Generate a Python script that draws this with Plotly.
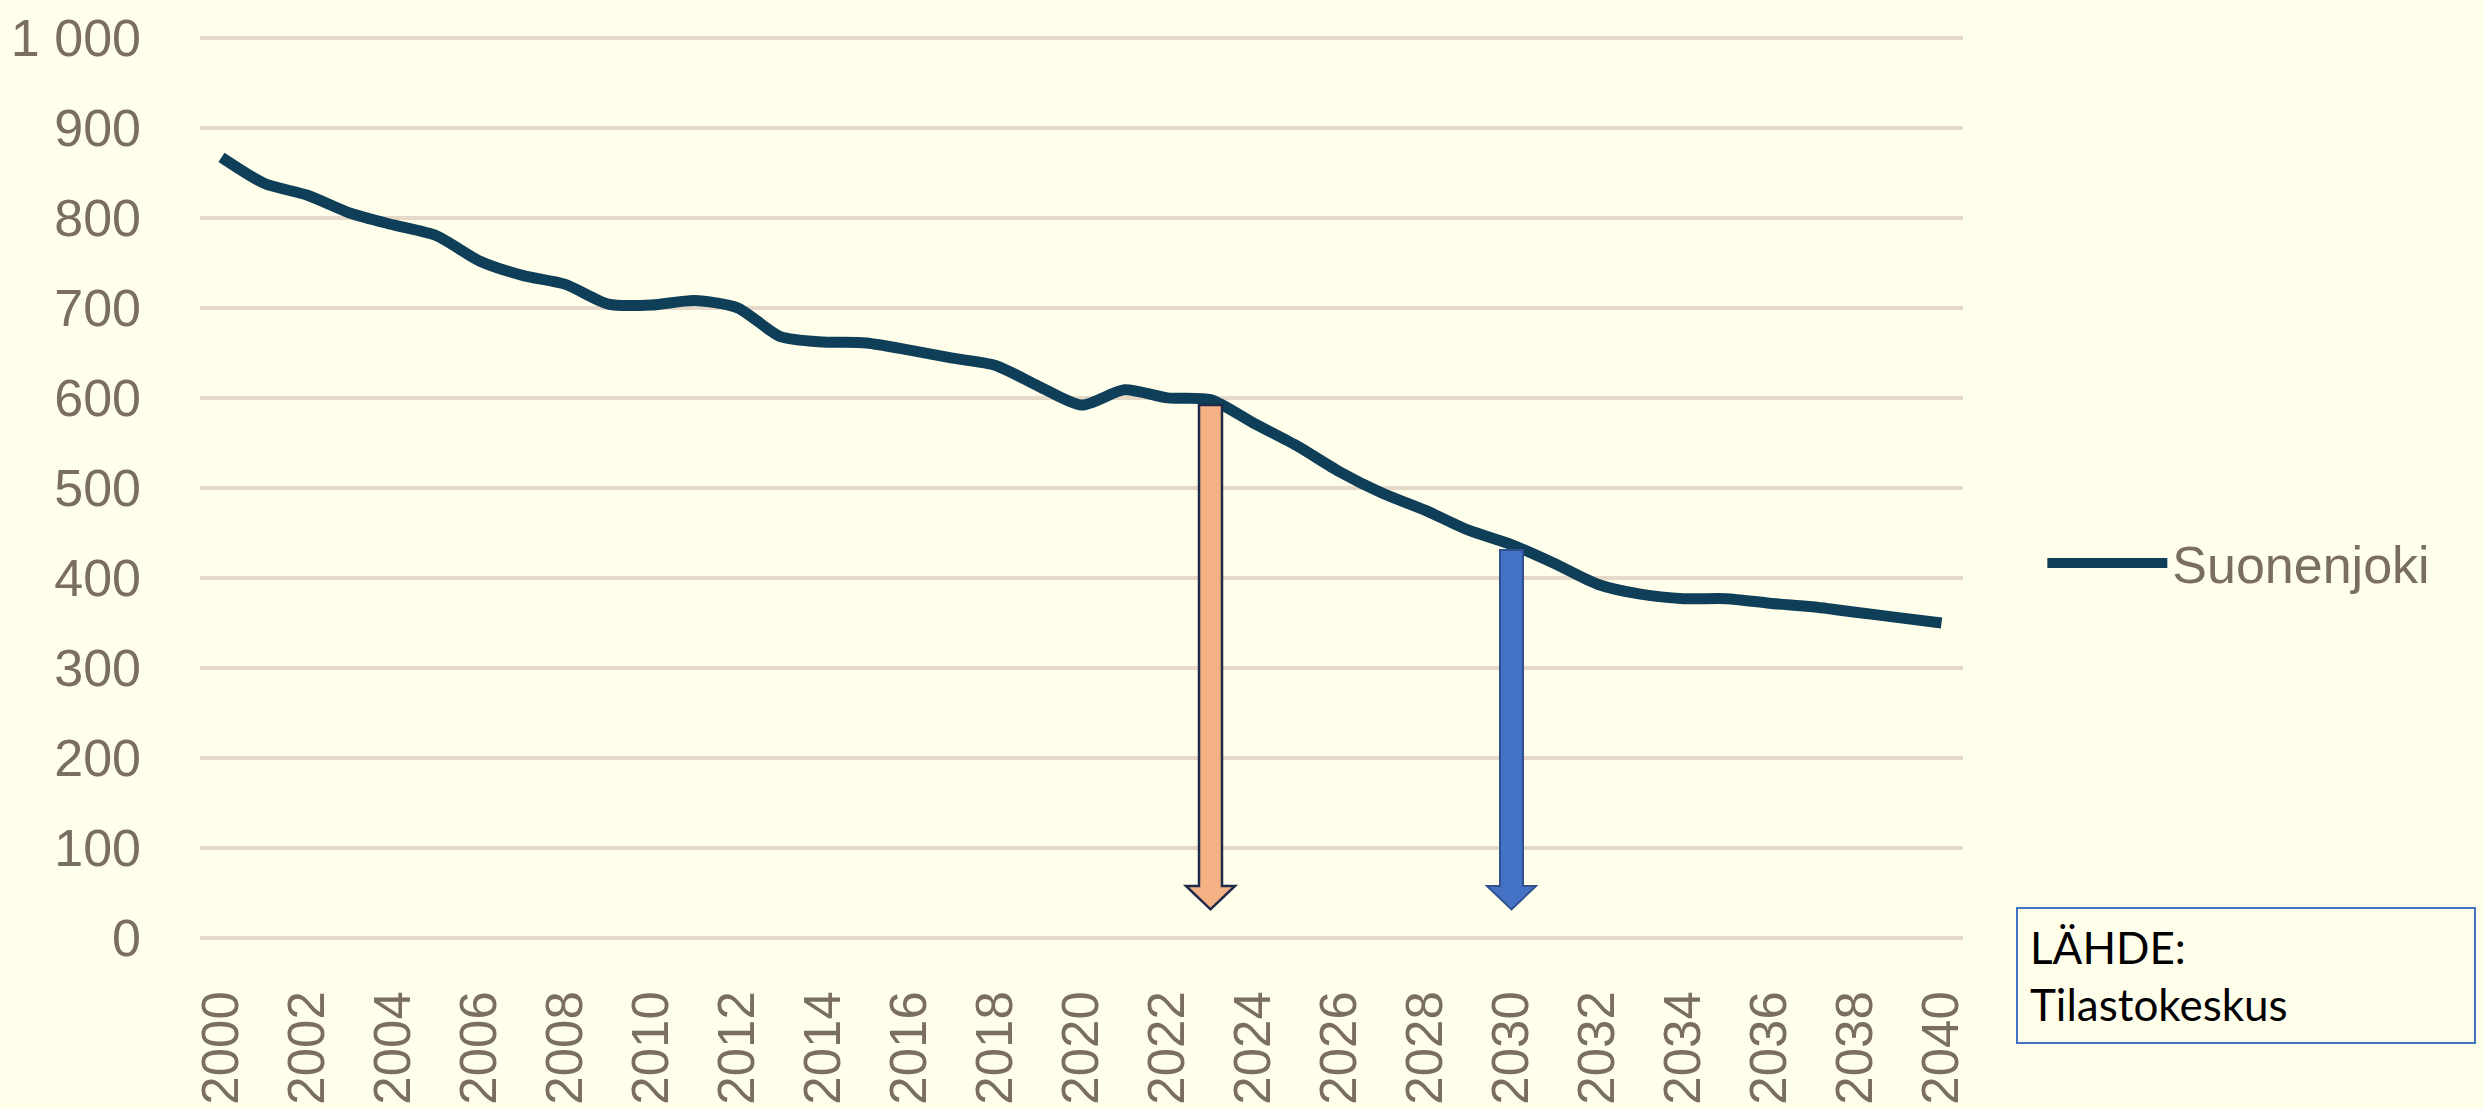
import plotly.graph_objects as go

# ---- data ----
years = list(range(2000, 2041))
suonenjoki = [867, 838, 825, 805, 792, 780, 752, 736, 726, 704,
              703, 708, 700, 668, 662, 661, 653, 644, 636, 613,
              592, 609, 600, 598, 572, 547, 518, 494, 475, 453,
              437, 416, 393, 382, 377, 377, 372, 368, 362, 356,
              350]
series_name = "Suonenjoki"
y_ticks = [0, 100, 200, 300, 400, 500, 600, 700, 800, 900, 1000]
x_ticks = list(range(2000, 2041, 2))
arrow_years = [2023, 2030]
source_text = "LÄHDE:<br>Tilastokeskus"

# ---- styles ----
BG = "#FFFEEB"
GRID = "#E6D9C8"
LINE = "#0F3F58"
TXT = "#7A6E63"
FONT = "Liberation Sans, Arial, sans-serif"
arrow_styles = [
    dict(fill="#F4B183", edge="#1F2A4A", w=2.5),
    dict(fill="#4472C4", edge="#2F528F", w=2),
]

fig = go.Figure()
fig.add_trace(go.Scatter(
    x=years, y=suonenjoki, name=series_name, mode="lines",
    line=dict(color=LINE, width=11, shape="spline", smoothing=0.7),
))

# block arrows from the line down to the axis at chosen years
for yr, st in zip(arrow_years, arrow_styles):
    top = suonenjoki[years.index(yr)] - 6
    sh, hh, hb, tip = 11.5, 24.5, 58, 32
    path = (f"M{-sh},{top} L{sh},{top} L{sh},{hb} L{hh},{hb} "
            f"L0,{tip} L{-hh},{hb} L{-sh},{hb} Z")
    fig.add_shape(type="path", xref="x", yref="y", xsizemode="pixel",
                  xanchor=yr, path=path, fillcolor=st["fill"],
                  line=dict(color=st["edge"], width=st["w"]), layer="above")

fig.add_annotation(
    text=source_text, xref="paper", yref="paper", x=1.030, y=0.0364,
    xanchor="left", yanchor="top", showarrow=False, align="left",
    valign="top", width=432, height=109, borderpad=12,
    bordercolor="#4472C4", borderwidth=2,
    font=dict(family="Lato, Open Sans, sans-serif", size=44, color="#000000"),
)

fig.update_layout(
    width=2484, height=1109,
    margin=dict(l=200, r=521, t=34, b=169),
    paper_bgcolor=BG, plot_bgcolor=BG,
    separators=", ",
    font=dict(family=FONT, size=52, color=TXT),
    showlegend=True,
    legend=dict(x=1.045, y=0.416, xanchor="left", yanchor="middle",
                bgcolor="rgba(0,0,0,0)", itemwidth=120,
                font=dict(family=FONT, size=52, color=TXT)),
    xaxis=dict(range=[1999.5, 2040.5], tickmode="array", tickvals=x_ticks,
               ticktext=[str(v) for v in x_ticks], tickangle=-90,
               showgrid=False, zeroline=False, showline=False,
               ticks="", ticklabelstandoff=40, automargin=False,
               tickfont=dict(family=FONT, size=51, color=TXT)),
    yaxis=dict(range=[-2, 1004], tickmode="array", tickvals=y_ticks,
               tickformat=",d", showgrid=True, gridcolor=GRID, gridwidth=4,
               zeroline=True, zerolinecolor=GRID, zerolinewidth=4,
               showline=False, ticks="", ticklabelstandoff=58,
               automargin=False,
               tickfont=dict(family=FONT, size=52, color=TXT)),
)

fig.write_html("out.html", config={"displayModeBar": False},
               post_script="document.body.style.margin='0';document.body.style.overflow='hidden';")
